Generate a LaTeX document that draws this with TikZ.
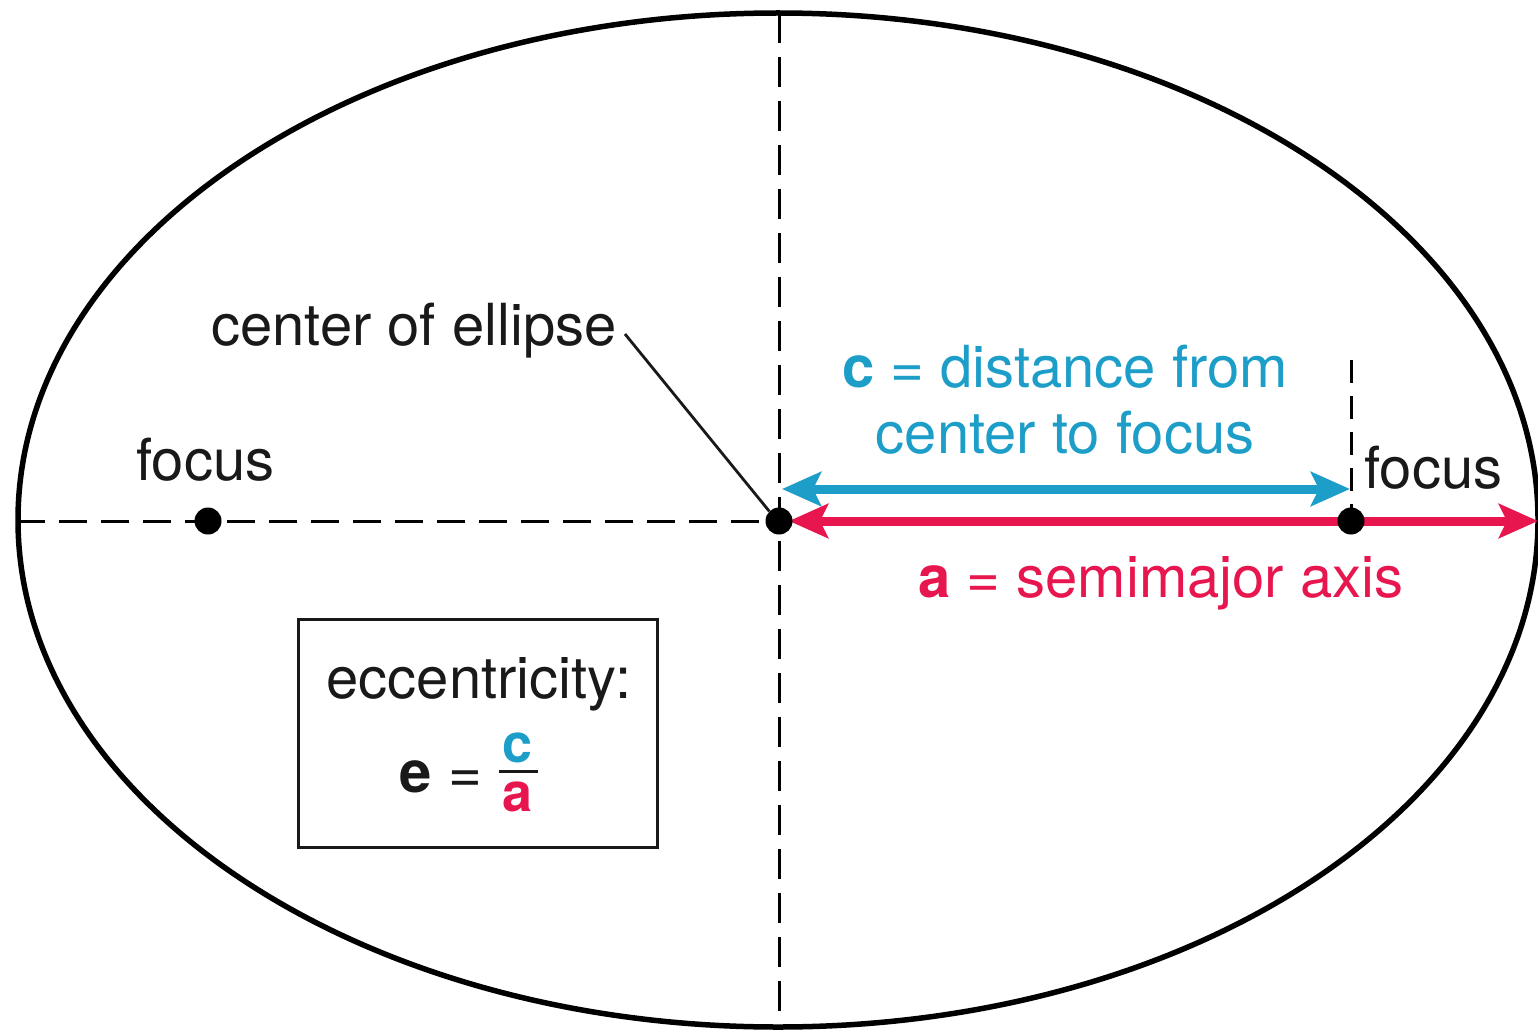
\documentclass[tikz,border=0pt]{standalone}
\usepackage{fontspec}
\setmainfont{TeX Gyre Heros}
\usetikzlibrary{arrows.meta}
\definecolor{cyanC}{RGB}{28,158,200}
\definecolor{redC}{RGB}{232,22,78}
\definecolor{inkC}{RGB}{25,25,25}
\tikzset{
  lbl/.style={inner sep=0pt, anchor=base west, text=inkC, font=\fontsize{58}{66}\selectfont},
  dashline/.style={line width=3pt, dash pattern=on 28pt off 14pt},
  dot/.style={circle, fill=black, inner sep=0pt, minimum size=27pt},
  dblarrow/.style={line width=9pt, {Stealth[length=39pt, width=34pt, inset=8pt]}-{Stealth[length=39pt, width=34pt, inset=8pt]}},
}
\begin{document}
\begin{tikzpicture}[x=1pt, y=-1pt]
\useasboundingbox (0,0) rectangle (1538,1032);
% key points
\coordinate (C) at (779,521);
\coordinate (F1) at (208,521);
\coordinate (F2) at (1351,521);
\coordinate (Lend) at (17,521);
\coordinate (Vtop) at (779,13);
\coordinate (Vbot) at (779,1027);
\coordinate (Ftop) at (1351,360);
\coordinate (Fbot) at (1351,508);
\coordinate (Cs) at (782,489);
\coordinate (Ce) at (1350,489);
\coordinate (As) at (789,521);
\coordinate (Ae) at (1538,521);
% ellipse
\draw[line width=5.5pt] (778,520) ellipse [x radius=760, y radius=507];
% dashed axes
\draw[dashline] (Lend) -- (C);
\draw[dashline, dash pattern=on 30pt off 14pt] (Vtop) -- (Vbot);
\draw[line width=3pt, dash pattern=on 23pt off 13pt] (Ftop) -- (Fbot);
% arrows
\draw[cyanC, dblarrow] (Cs) -- (Ce);
\draw[redC, dblarrow] (As) -- (Ae);
% dots
\node[dot] (dC) at (C) {};
\node[dot] (dF1) at (F1) {};
\node[dot] (dF2) at (F2) {};
% labels
\node[lbl] (lcenter) at (211,345) {center of ellipse};
\coordinate (callA) at (625,334);
\draw[line width=2.8pt, inkC] (callA) -- (dC.north west);
\node[lbl] (lf1) at (136,480) {focus};
\node[lbl] (lf2) at (1364,488) {focus};
\node[lbl, anchor=base, text=cyanC] (lc1) at (1065,387) {\textbf{c} = distance from};
\node[lbl, anchor=base, text=cyanC] (lc2) at (1065,453) {center to focus};
\node[lbl, text=redC] (la) at (918,597) {\textbf{a} = semimajor axis};
% eccentricity box
\node[draw=inkC, line width=3pt, minimum width=359pt, minimum height=228pt, inner sep=0pt] (box) at (477.5,733) {};
\node[lbl, anchor=base] (lecc) at (479,698) {eccentricity:};
\node[lbl, anchor=base] (le) at (416,792) {\textbf{e}};
\node[lbl, anchor=base] (leq) at (465,792) {=};
\node[lbl, anchor=base, text=cyanC, font=\fontsize{54}{60}\selectfont\bfseries] (lcc) at (518,762) {c};
\node[lbl, anchor=base, text=redC, font=\fontsize{54}{60}\selectfont\bfseries] (laa) at (518,811) {a};
\coordinate (barL) at (499,771);
\coordinate (barR) at (538,771);
\draw[line width=3pt, inkC] (barL) -- (barR);
\end{tikzpicture}
\end{document}
